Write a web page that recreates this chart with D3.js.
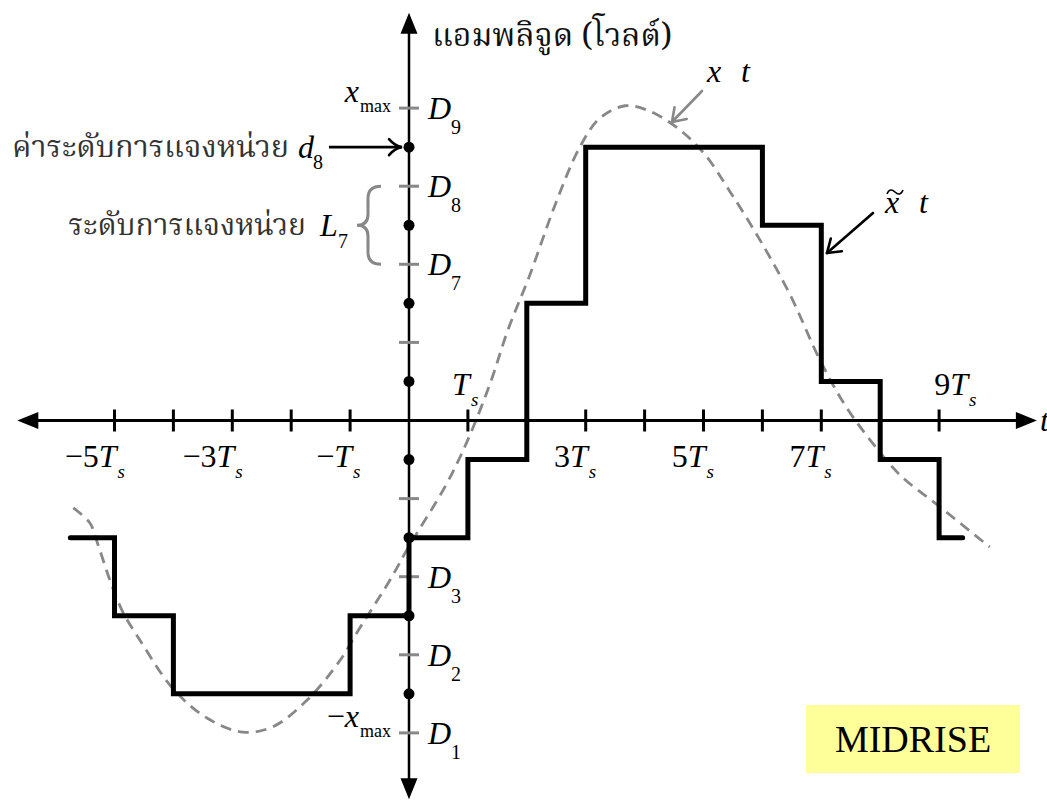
<!DOCTYPE html>
<html>
<head>
<meta charset="utf-8">
<script src="https://cdn.jsdelivr.net/npm/d3@7"></script>
<style>
  body { margin: 0; background: #fff; }
  svg { display: block; }
  .math { font-family: "Liberation Serif", "Times New Roman", serif; font-style: italic; }
  .rom { font-family: "Liberation Serif", "Times New Roman", serif; }
  .thai { font-family: "Norasi", "Kinnari", "Noto Serif Thai", "Noto Sans Thai", "Loma", "Garuda", "Liberation Serif", serif; }
</style>
</head>
<body>
<svg id="chart" width="1047" height="802"></svg>
<script>
// ---- data (time in units of Ts, amplitude in units of the step size Δ) ----
// sample-and-hold output of the midrise quantizer
const holdStart = [-5.75, -5, -4, -1, 0, 1, 2, 3, 6, 7, 8, 9];
const holdLevel = [-1.5, -2.5, -3.5, -2.5, -1.5, -0.5, 1.5, 3.5, 2.5, 0.5, -0.5, -1.5];
const holdEnd = 9.4;

// analogue signal x(t)
const signalT = [-5.70, -5.42, -5.28, -5.08, -4.86, -4.57, -4.01, -3.43, -2.82, -2.31, -1.73, -1.17,
                 -0.88, -0.61, -0.32, 0.00, 0.61, 0.98, 1.38, 1.68, 2.05, 2.48, 2.90, 3.24, 3.67,
                 4.09, 4.60, 5.03, 5.45, 5.96, 6.47, 6.98, 7.40, 7.83, 8.34, 9.02, 9.86];
const signalV = [-1.12, -1.31, -1.59, -2.04, -2.45, -2.81, -3.43, -3.81, -3.99, -3.92, -3.58, -3.07,
                 -2.71, -2.39, -2.04, -1.61, -0.85, -0.28, 0.48, 1.16, 1.86, 2.76, 3.50, 3.87, 4.03,
                 3.96, 3.72, 3.40, 2.93, 2.31, 1.61, 0.77, 0.20, -0.25, -0.70, -1.11, -1.62];

// quantizer: decision levels D1..D9 and reconstruction levels d1..d8
const decisionLevels = [-4, -3, -2, -1, 0, 1, 2, 3, 4];
const decisionNames = ["1", "2", "3", "", "", "", "7", "8", "9"];
const reconLevels = [-3.5, -2.5, -1.5, -0.5, 0.5, 1.5, 2.5, 3.5];

// time axis
const timeTicks = [-5, -4, -3, -2, -1, 1, 2, 3, 4, 5, 6, 7, 8, 9];
const timeLabelAt = [-5, -3, -1, 1, 3, 5, 7, 9];
const timeLabelText = ["−5", "−3", "−", "", "3", "5", "7", "9"];

const yTitle = "แอมพลิจูด (โวลต์)";
const reconLabel = "ค่าระดับการแจงหน่วย";
const intervalLabel = "ระดับการแจงหน่วย";
const modeLabel = "MIDRISE";

// ---- scales ----
const x0 = 409, ts = 58.9, y0 = 420.5, dv = 78.1;
const x = d3.scaleLinear().domain([0, 1]).range([x0, x0 + ts]);
const y = d3.scaleLinear().domain([0, 1]).range([y0, y0 - dv]);

const svg = d3.select("#chart");
const gray = "#888888";

// ---- analogue signal (dashed) ----
const sig = d3.zip(signalT, signalV);
svg.append("path")
  .datum(sig)
  .attr("fill", "none")
  .attr("stroke", gray)
  .attr("stroke-width", 2.8)
  .attr("stroke-dasharray", "11 7")
  .attr("d", d3.line().x(d => x(d[0])).y(d => y(d[1])).curve(d3.curveCatmullRom.alpha(0.5)));

// ---- axes ----
const tMin = -6.65, tMax = 10.66, vTop = 5.22, vBot = -4.85;
svg.append("line")
  .attr("x1", x(tMin) + 14).attr("x2", x(tMax) - 14)
  .attr("y1", y(0)).attr("y2", y(0))
  .attr("stroke", "#000").attr("stroke-width", 3);
svg.append("line")
  .attr("x1", x(0)).attr("x2", x(0))
  .attr("y1", y(vTop) + 14).attr("y2", y(vBot) - 14)
  .attr("stroke", "#000").attr("stroke-width", 2.5);

function arrowHead(tipX, tipY, dirX, dirY, len, half) {
  const bx = tipX - dirX * len, by = tipY - dirY * len;
  const px = -dirY, py = dirX;
  return `M${tipX},${tipY}L${bx + px * half},${by + py * half}L${bx - px * half},${by - py * half}Z`;
}
svg.append("path").attr("d", arrowHead(x(tMin), y(0), -1, 0, 21, 8.5)).attr("fill", "#000");
svg.append("path").attr("d", arrowHead(x(tMax), y(0), 1, 0, 21, 8.5)).attr("fill", "#000");
svg.append("path").attr("d", arrowHead(x(0), y(vTop), 0, -1, 21, 8.5)).attr("fill", "#000");
svg.append("path").attr("d", arrowHead(x(0), y(vBot), 0, 1, 21, 8.5)).attr("fill", "#000");

// time ticks
svg.append("g").selectAll("line")
  .data(timeTicks).join("line")
  .attr("x1", d => x(d)).attr("x2", d => x(d))
  .attr("y1", y(0) - 11).attr("y2", y(0) + 11)
  .attr("stroke", "#000").attr("stroke-width", 3);

// decision level ticks (gray)
svg.append("g").selectAll("line")
  .data(decisionLevels.filter(d => d !== 0)).join("line")
  .attr("x1", x(0) - 10).attr("x2", x(0) + 10)
  .attr("y1", d => y(d)).attr("y2", d => y(d))
  .attr("stroke", gray).attr("stroke-width", 3);

// ---- quantized, held signal ----
const held = holdStart.map((t, i) => [t, holdLevel[i]]);
held.push([holdEnd, holdLevel[holdLevel.length - 1]]);
svg.append("path")
  .datum(held)
  .attr("fill", "none")
  .attr("stroke", "#000")
  .attr("stroke-width", 5)
  .attr("stroke-linejoin", "miter")
  .attr("stroke-linecap", "round")
  .attr("d", d3.line().x(d => x(d[0])).y(d => y(d[1])).curve(d3.curveStepAfter));

// reconstruction level dots
svg.append("g").selectAll("circle")
  .data(reconLevels).join("circle")
  .attr("cx", x(0)).attr("cy", d => y(d)).attr("r", 5.5)
  .attr("fill", "#000");

// ---- time labels ----
const tl = svg.append("g");
timeLabelAt.forEach((t, i) => {
  const above = (t === 1 || t === 9);
  const base = above ? y(0) - 26 : y(0) + 46;
  // the label sits left of its tick, except the last one which sits to the right
  const tx = (t === 9) ? x(t) + 29 : x(t) + 2;
  const txt = timeLabelText[i];
  const lab = tl.append("text").attr("class", "math")
    .attr("x", tx).attr("y", base)
    .attr("text-anchor", "end").attr("font-size", 32);
  if (txt) lab.append("tspan").attr("font-style", "normal").text(txt);
  lab.append("tspan").text("T");
  tl.append("text").attr("class", "math")
    .attr("x", tx + 1).attr("y", base + 11)
    .attr("font-size", 19).text("s");
});
// right end of the time axis
svg.append("text").attr("class", "math")
  .attr("x", 1040).attr("y", y(0) + 10).attr("font-size", 32).text("t");

// ---- decision level labels ----
const dl = svg.append("g");
decisionLevels.forEach((v, i) => {
  if (!decisionNames[i]) return;
  dl.append("text").attr("class", "math")
    .attr("x", x(0) + 19).attr("y", y(v) + 11).attr("font-size", 32).text("D");
  dl.append("text").attr("class", "rom")
    .attr("x", x(0) + 42).attr("y", y(v) + 26).attr("font-size", 20).text(decisionNames[i]);
});

// x_max and -x_max
function xmaxLabel(v, neg) {
  const g = svg.append("g");
  const t = g.append("text").attr("class", "math")
    .attr("x", x(0) - 50).attr("y", y(v) - 6).attr("font-size", 32).attr("text-anchor", "end");
  if (neg) t.append("tspan").attr("font-style", "normal").text("−");
  t.append("tspan").text("x");
  g.append("text").attr("class", "rom")
    .attr("x", x(0) - 49).attr("y", y(v) + 4).attr("font-size", 18).text("max");
}
xmaxLabel(4, false);
xmaxLabel(-4, true);

// fit a Thai label to a given width
function fitText(sel, width) {
  const w = sel.node().getComputedTextLength();
  const fs = parseFloat(sel.attr("font-size"));
  sel.attr("font-size", fs * width / w);
}

// ---- y title ----
const title = svg.append("text").attr("class", "thai")
  .attr("x", 432).attr("y", 46).attr("font-size", 32).attr("fill", "#111").text(yTitle);
fitText(title, 240);

// ---- reconstruction level annotation (d8) ----
const r8 = y(3.5);
const rl = svg.append("text").attr("class", "thai")
  .attr("x", 289).attr("y", r8 + 10).attr("text-anchor", "end")
  .attr("font-size", 32).attr("fill", "#333").text(reconLabel);
fitText(rl, 277);
svg.append("text").attr("class", "math").attr("x", 298).attr("y", r8 + 11).attr("font-size", 32).text("d");
svg.append("text").attr("class", "rom").attr("x", 313).attr("y", r8 + 22).attr("font-size", 20).text("8");
svg.append("line").attr("x1", 329).attr("x2", x(0) - 8).attr("y1", r8).attr("y2", r8)
  .attr("stroke", "#000").attr("stroke-width", 2.6);
svg.append("path")
  .attr("d", `M${x(0) - 20},${r8 - 8} Q${x(0) - 14},${r8 - 1} ${x(0) - 7},${r8} Q${x(0) - 14},${r8 + 1} ${x(0) - 20},${r8 + 8}`)
  .attr("fill", "none").attr("stroke", "#000").attr("stroke-width", 2.6).attr("stroke-linecap", "round");

// ---- quantization interval annotation (L7) ----
const lTop = y(3), lBot = y(2), lMid = y(2.5);
const il = svg.append("text").attr("class", "thai")
  .attr("x", 306).attr("y", lMid + 10).attr("text-anchor", "end")
  .attr("font-size", 32).attr("fill", "#333").text(intervalLabel);
fitText(il, 238);
svg.append("text").attr("class", "math").attr("x", 320).attr("y", lMid + 11).attr("font-size", 32).text("L");
svg.append("text").attr("class", "rom").attr("x", 338).attr("y", lMid + 23).attr("font-size", 20).text("7");
const bx = 368;
svg.append("path")
  .attr("d", `M${bx + 13},${lTop} Q${bx},${lTop} ${bx},${lTop + 12} L${bx},${lMid - 11} Q${bx},${lMid} ${bx - 11},${lMid} Q${bx},${lMid} ${bx},${lMid + 11} L${bx},${lBot - 12} Q${bx},${lBot} ${bx + 13},${lBot}`)
  .attr("fill", "none").attr("stroke", gray).attr("stroke-width", 3);

// ---- curve call-outs ----
function callout(x1, y1, x2, y2, color) {
  const g = svg.append("g").attr("stroke", color).attr("stroke-width", 2.6).attr("fill", "none")
    .attr("stroke-linecap", "round");
  g.append("line").attr("x1", x1).attr("y1", y1).attr("x2", x2).attr("y2", y2);
  const a = Math.atan2(y2 - y1, x2 - x1);
  [0.6, -0.6].forEach(o => {
    g.append("line").attr("x1", x2).attr("y1", y2)
      .attr("x2", x2 - 15 * Math.cos(a + o)).attr("y2", y2 - 15 * Math.sin(a + o));
  });
}
callout(702, 91, 672, 122, gray);
svg.append("text").attr("class", "math").attr("x", 707).attr("y", 82).attr("font-size", 32).text("x");
svg.append("text").attr("class", "math").attr("x", 741).attr("y", 82).attr("font-size", 32).text("t");

callout(873, 213, 827, 253, "#000");
svg.append("text").attr("class", "math").attr("x", 885).attr("y", 213).attr("font-size", 32).text("x");
// tilde accent over x
svg.append("path")
  .attr("d", "M887,194 C889,189 892,189 895,192 C898,195 901,195 903,190")
  .attr("fill", "none").attr("stroke", "#000").attr("stroke-width", 1.6);
svg.append("text").attr("class", "math").attr("x", 919).attr("y", 213).attr("font-size", 32).text("t");

// ---- mode box ----
svg.append("rect").attr("x", 806).attr("y", 705).attr("width", 214).attr("height", 68).attr("fill", "#FFFF99");
svg.append("text").attr("class", "rom").attr("x", 913).attr("y", 752)
  .attr("text-anchor", "middle").attr("font-size", 38).text(modeLabel);
</script>
</body>
</html>
